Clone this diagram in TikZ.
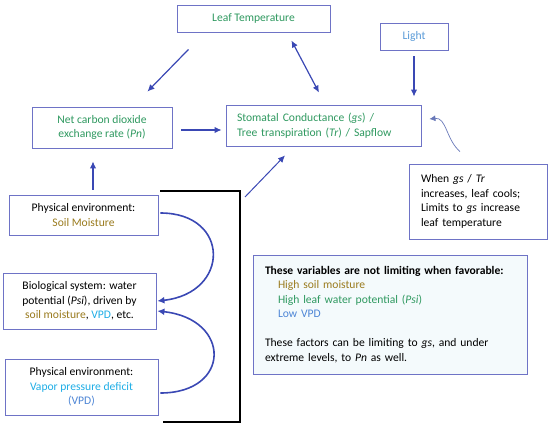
\documentclass[tikz,border=0pt]{standalone}
\usepackage{fontspec}
\setmainfont{Carlito}
\usepackage{tikz}
\usetikzlibrary{arrows.meta}
\usetikzlibrary{calc}

\definecolor{boxc}{HTML}{6E73C6}
\definecolor{arrc}{HTML}{3A48B4}
\definecolor{thinc}{HTML}{6878B8}
\definecolor{tgreen}{HTML}{2F9960}
\definecolor{lightc}{HTML}{5A9BD8}
\definecolor{soilc}{HTML}{9A7B1E}
\definecolor{vpdc}{HTML}{1FAEE6}
\definecolor{lowvpd}{HTML}{4E86D6}
\definecolor{notefill}{HTML}{F4FAFC}

\begin{document}
\begin{tikzpicture}[x=1pt,y=-1pt,
        box/.style={draw=boxc, line width=0.9pt, fill=white, inner sep=0pt, align=center,
            font=\fontsize{11.6}{14.5}\selectfont},
        leftbox/.style={box, align=left, inner ysep=2pt},
        arr/.style={draw=arrc, line width=1.2pt, -{Latex[length=7pt,width=6.5pt]}},
        curvearr/.style={draw=arrc, line width=1.6pt, -{Latex[length=7pt,width=7pt]}},
        thinarr/.style={draw=thinc, line width=0.7pt, -{Latex[length=6pt,width=6pt]}}]
        \useasboundingbox (0,0) rectangle (550,428);

        % top row
        \node[box, minimum width=153pt, minimum height=27pt] (leaftemp) at (253.5,18.5)
            {\color{tgreen}Leaf Temperature};
        \node[box, minimum width=68pt, minimum height=27pt] (light) at (414,36.5)
            {\color{lightc}Light};

        % middle row
        \node[box, minimum width=140pt, minimum height=41pt] (netco2) at (102,127.5)
            {\color{tgreen}Net carbon dioxide\\\color{tgreen}exchange rate (\textit{Pn})};
        \node[leftbox, inner xsep=11pt, text width=173pt, minimum height=41pt] (stomatal) at (323.5,125.5)
            {\color{tgreen}Stomatal Conductance (\textit{gs}) /\\\color{tgreen}Tree transpiration (\textit{Tr}) / Sapflow};

        % left column
        \node[box, minimum width=149pt, minimum height=40pt] (soil) at (83.5,215)
            {Physical environment:\\{\color{soilc}Soil Moisture}};
        \node[box, minimum width=153pt, minimum height=56pt] (bio) at (79.5,301)
            {Biological system: water\\potential (\textit{Psi}), driven by\\{\color{soilc}soil moisture}, {\color{vpdc}VPD}, etc.};
        \node[box, minimum width=153pt, minimum height=56pt] (vpd) at (81.5,387)
            {Physical environment:\\{\color{vpdc}Vapor pressure deficit}\\{\color{lowvpd}(VPD)}};

        % notes
        \node[leftbox, inner xsep=12pt, text width=114pt, minimum height=75pt] (when) at (478,201.5)
            {When \textit{gs} / \textit{Tr}\\increases, leaf cools;\\Limits to \textit{gs} increase\\leaf temperature};
        \node[leftbox, fill=notefill, inner xsep=12pt, text width=250pt, minimum height=119pt] (note) at (390,314.5)
            {\textbf{These variables are not limiting when favorable:}\\
            \hspace*{13pt}{\color{soilc}High soil moisture}\\
            \hspace*{13pt}{\color{tgreen}High leaf water potential (\textit{Psi})}\\
            \hspace*{13pt}{\color{lowvpd}Low VPD}\\[14.5pt]
            These factors can be limiting to \textit{gs}, and under\\
            extreme levels, to \textit{Pn} as well.};

        % bracket round the water factors
        \coordinate (brtop) at (240,191);
        \draw[line width=2.2pt] (160,191) -- (brtop) -- (240,422) -- (163,422);

        % arrows
        \draw[arr] ([shift={(-142,17)}]leaftemp.south east) -- ([shift={(-25,-15)}]netco2.north east);
        \draw[draw=arrc, line width=1.2pt, {Latex[length=7pt,width=6.5pt]}-{Latex[length=7pt,width=6.5pt]}]
            ([shift={(-39,8)}]leaftemp.south east) -- ([shift={(-4.5,-12)}]stomatal.north);
        \draw[arr, shorten <=6pt, shorten >=8pt] (light.south) -- (light.south |- stomatal.north);
        \draw[arr, shorten <=9pt, shorten >=4pt] ([shift={(0,2.5)}]netco2.east) -- ([shift={(0,4.5)}]stomatal.west);
        \draw[arr, shorten <=5pt, shorten >=13pt] ([shift={(9.5,0)}]soil.north) -- ([shift={(9.5,0)}]soil.north |- netco2.south);
        \draw[draw=arrc, line width=1pt, -{Latex[length=7pt,width=6.5pt]}]
            ([shift={(5,6)}]brtop) -- ([shift={(-38.5,9)}]stomatal.south);
        \draw[curvearr] ([shift={(2,-2)}]soil.east) .. controls +(70,0) and +(73,-8) .. ([shift={(1,0)}]bio.east);
        \draw[curvearr] ([shift={(2,6)}]vpd.east) .. controls +(71,0) and +(74,8) .. ([shift={(1,10)}]bio.east);
        \draw[thinarr] ([shift={(-18,-12)}]when.north) .. controls +(-14,-12) and +(17,-2) .. ([shift={(8,-6.5)}]stomatal.east);
    \end{tikzpicture}
\end{document}
